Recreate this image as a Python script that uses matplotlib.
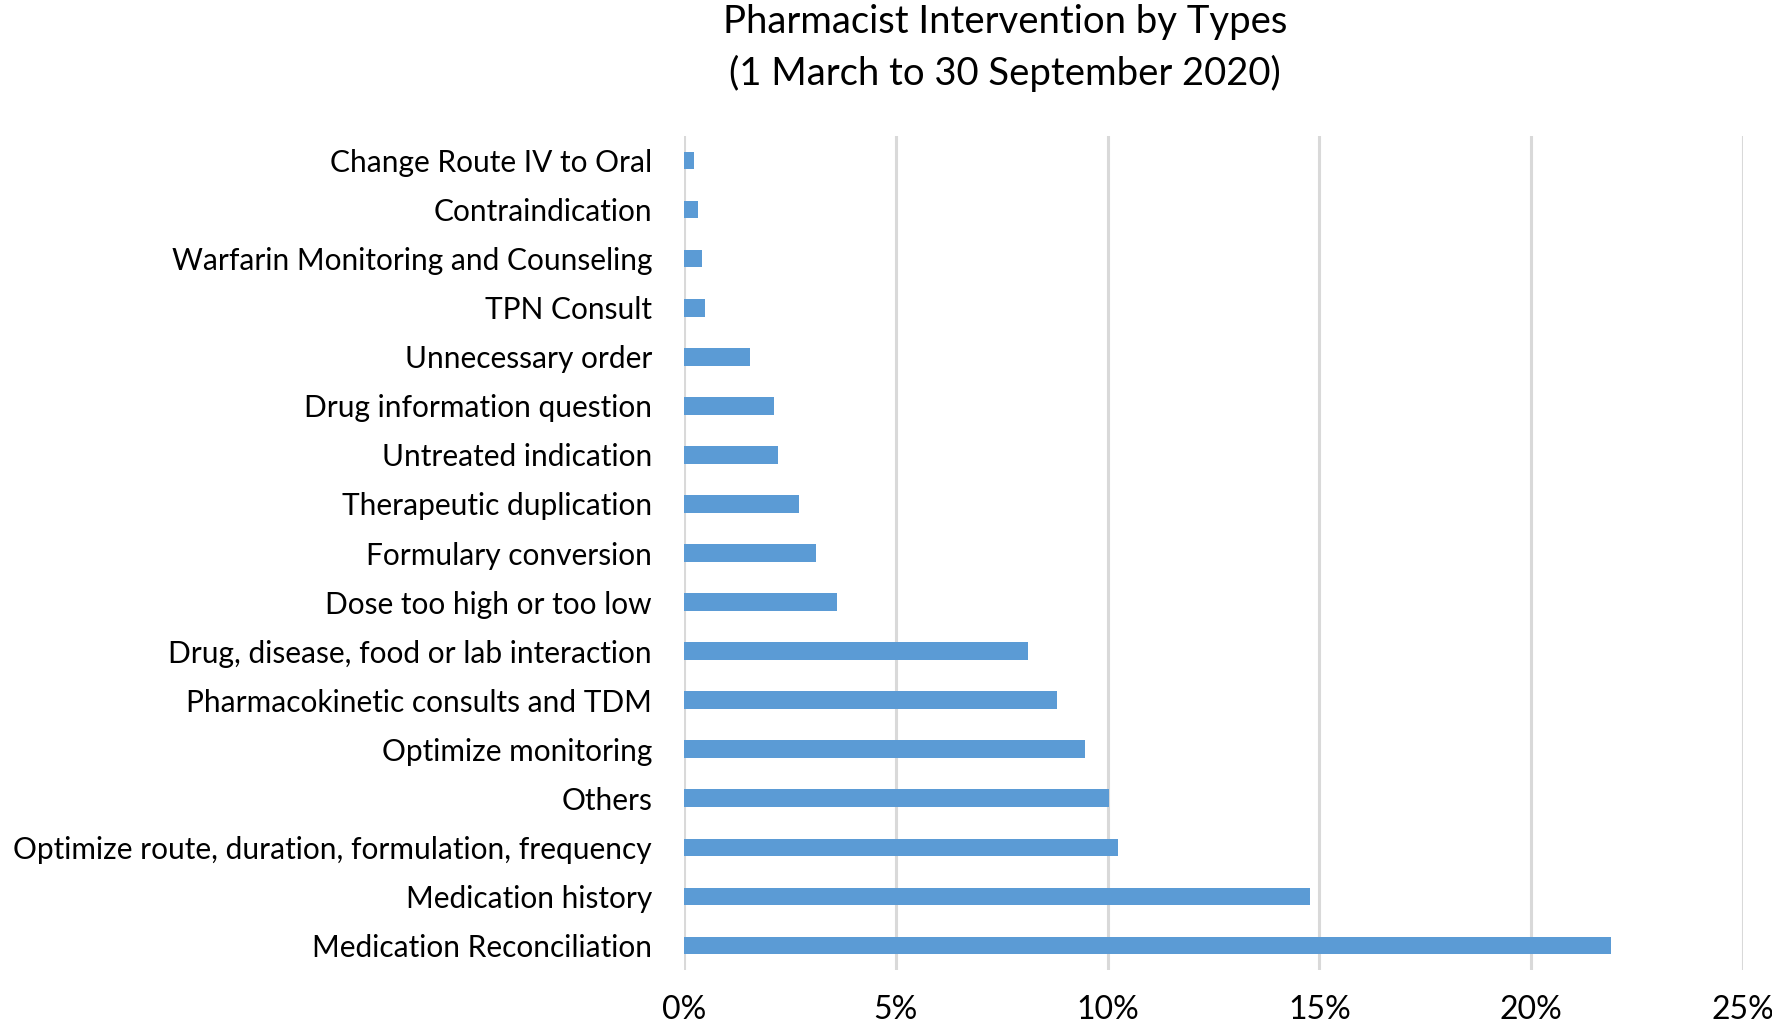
import matplotlib
matplotlib.use("Agg")
import matplotlib.pyplot as plt
from matplotlib.ticker import FuncFormatter

plt.rcParams['font.family'] = ['Lato', 'DejaVu Sans']

# categories listed top to bottom as in the chart
categories = [
    "Change Route IV to Oral",
    "Contraindication",
    "Warfarin Monitoring and Counseling",
    "TPN Consult",
    "Unnecessary order",
    "Drug information question",
    "Untreated indication",
    "Therapeutic duplication",
    "Formulary conversion",
    "Dose too high or too low",
    "Drug, disease, food or lab interaction",
    "Pharmacokinetic consults and TDM",
    "Optimize monitoring",
    "Others",
    "Optimize route, duration, formulation, frequency",
    "Medication history",
    "Medication Reconciliation",
]
share = [0.23, 0.32, 0.42, 0.50, 1.56, 2.13, 2.21, 2.71, 3.11, 3.62,
         8.13, 8.80, 9.46, 10.04, 10.24, 14.77, 21.89]
xticks = [0, 5, 10, 15, 20, 25]

fig = plt.figure(figsize=(17.72, 10.35), dpi=100)
ax = fig.add_axes([0.386, 0.0628, 0.5976, 0.8058])

ax.barh(range(len(categories)), share, height=0.36, color='#5B9BD5', zorder=3)
ax.set_ylim(len(categories) - 0.5, -0.5)
ax.set_xlim(0, 25)
ax.set_xticks(xticks)
ax.xaxis.set_major_formatter(FuncFormatter(lambda v, p: f"{v:.0f}%"))
ax.set_yticks(range(len(categories)))
ax.set_yticklabels(categories)

ax.grid(axis='x', color='#D9D9D9', linewidth=2.2, zorder=0)
for s in ax.spines.values():
    s.set_visible(False)
ax.tick_params(axis='y', length=0, pad=23, labelsize=21.5)
ax.tick_params(axis='x', length=0, pad=18, labelsize=23)

fig.text(0.567, 0.996, "Pharmacist Intervention by Types\n(1 March to 30 September 2020)",
         ha='center', va='top', fontsize=27.5, linespacing=1.5)

fig.savefig("out.png", dpi=100)
